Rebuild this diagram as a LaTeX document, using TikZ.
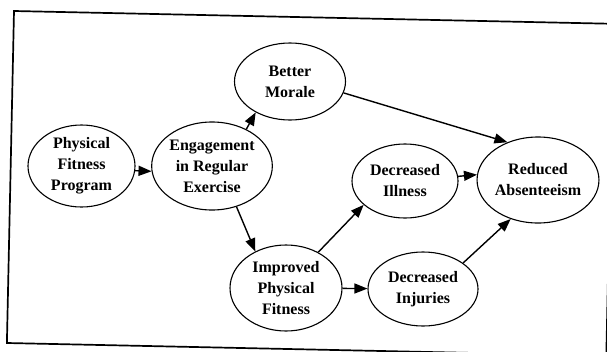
\documentclass[tikz,border=0pt]{standalone}
\usepackage{fontspec}
\setmainfont{Liberation Serif}
\usetikzlibrary{shapes.geometric,arrows.meta}
\tikzset{
  bubble/.style={draw, line width=1.1pt, ellipse, inner sep=0pt, align=center,
    font=\fontsize{16}{21}\selectfont\bfseries},
  link/.style={line width=1.4pt, -{Triangle[length=13pt,width=10pt]}},
  frame/.style={line width=1.7pt, line join=miter}
}
\begin{document}
\begin{tikzpicture}[x=1pt,y=-1pt]
\useasboundingbox (0,0) rectangle (607,351);
\draw[frame] (14,11) -- (613.4,23.8) -- (606.3,355.8) -- (6.9,343) -- cycle;

\node[bubble, minimum width=107pt, minimum height=82pt] (P) at (81.5,166) {Physical\\Fitness\\Program};
\node[bubble, minimum width=114pt, minimum height=88pt] (E) at (212,166) {Engagement\\in Regular\\Exercise};
\node[bubble, minimum width=111pt, minimum height=77pt] (B) at (290,81.5) {Better\\Morale};
\node[bubble, minimum width=106pt, minimum height=74pt] (L) at (405,181) {Decreased\\Illness};
\node[bubble, minimum width=108pt, minimum height=86pt] (R) at (538,180) {Reduced\\Absenteeism};
\node[bubble, minimum width=112pt, minimum height=86pt] (I) at (286,288) {Improved\\Physical\\Fitness};
\node[bubble, minimum width=110pt, minimum height=74pt] (J) at (423,289) {Decreased\\Injuries};

\draw[link] (P.-5) -- (E.185);
\draw[link] (E.47.5) -- (B.222);
\draw[link] (E.-59) -- (I.130);
\draw[link] (B.-12) -- (R.129);
\draw[link] (I.48) -- (L.210);
\draw[link] (I) -- (J);
\draw[link] (J.33) -- (R.235);
\draw[link] (L.5) -- (R.175);
\end{tikzpicture}
\end{document}
